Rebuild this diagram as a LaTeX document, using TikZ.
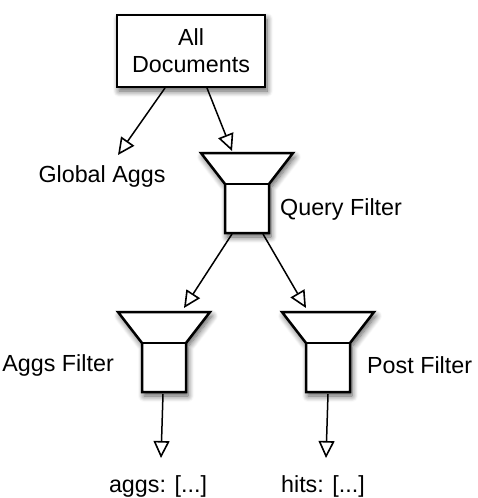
\documentclass[tikz,border=0pt]{standalone}
\usepackage{fontspec}
\setmainfont{Liberation Sans}
\usetikzlibrary{arrows.meta,shadows.blur}
\begin{document}
\begin{tikzpicture}[x=1pt,y=-1pt,
  lbl/.style={font=\fontsize{23.3}{27}\selectfont, inner sep=0pt},
  shapeline/.style={draw=black, line width=2.5pt, fill=white, line join=miter,
    blur shadow={shadow xshift=2pt, shadow yshift=-4pt, shadow blur steps=8,
      shadow blur radius=6pt, shadow opacity=65}},
  conn/.style={line width=1.5pt,
    -{Triangle[open, length=17pt, width=16pt, line width=1.6pt]}}]
\useasboundingbox (0,0) rectangle (478,498);

% All Documents box
\node[shapeline, lbl, minimum width=148pt, minimum height=72pt, align=center]
  (docs) at (191,51) {All\\Documents};

% funnels
\newcommand{\funnel}[3]{% #1 name, #2 center x, #3 top y
  \path[shapeline] (#2-46,#3) -- (#2+46,#3) -- (#2+22,#3+31) -- (#2+22,#3+80)
    -- (#2-22,#3+80) -- (#2-22,#3+31) -- cycle;
  \draw[line width=2.5pt] (#2-22,#3+31) -- (#2+22,#3+31);
  \coordinate (#1) at (#2,#3+40);
}
\funnel{query}{247}{153}
\funnel{aggs}{164}{312}
\funnel{post}{328}{312}

% labels
\node[lbl] (global) at (102,176) {Global Aggs};
\node[lbl, anchor=west] (qlabel) at (280,209) {Query Filter};
\node[lbl, anchor=east] (alabel) at (114,365) {Aggs Filter};
\node[lbl, anchor=west] (plabel) at (367,365) {Post Filter};
\node[lbl] (aggsout) at (158,486) {aggs: [...]};
\node[lbl] (hitsout) at (323,486) {hits: [...]};

% connector ends
\coordinate (dL) at (165,88);
\coordinate (dR) at (207,88);
\coordinate (gtip) at (118,155);
\coordinate (qtip) at (232,151);
\coordinate (qL) at (232,234);
\coordinate (qR) at (263,234);
\coordinate (atip) at (184,308);
\coordinate (ptip) at (306,308);
\coordinate (aout) at (163,394);
\coordinate (pout) at (328,394);
\coordinate (atip2) at (161,458);
\coordinate (ptip2) at (326,458);

\draw[conn] (dL) -- (gtip);
\draw[conn] (dR) -- (qtip);
\draw[conn] (qL) -- (atip);
\draw[conn] (qR) -- (ptip);
\draw[conn] (aout) -- (atip2);
\draw[conn] (pout) -- (ptip2);
\end{tikzpicture}
\end{document}
